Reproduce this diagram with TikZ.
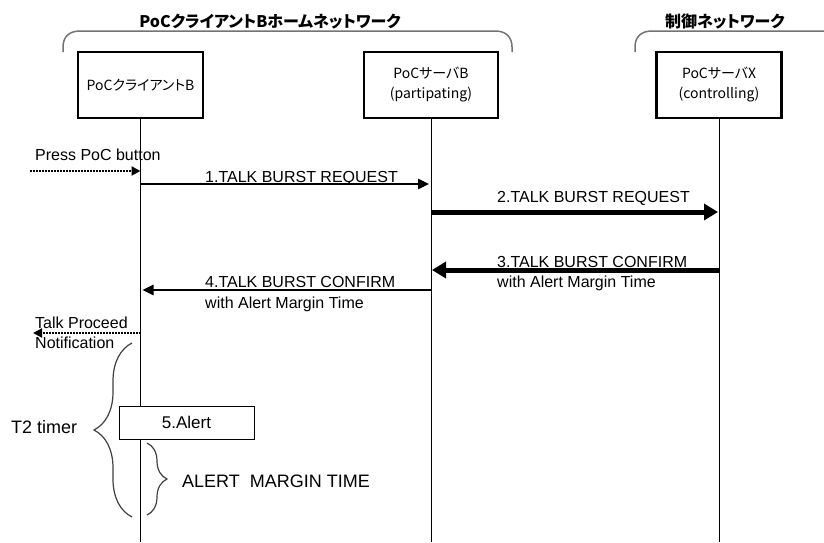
\documentclass[tikz,border=0pt]{standalone}
\usepackage{fontspec}
\setmainfont{Liberation Sans}
\newfontfamily\jp[RawFeature=+palt]{Noto Sans CJK JP}
\usetikzlibrary{arrows.meta,decorations.pathreplacing}
\begin{document}
\begin{tikzpicture}[x=1pt,y=-1pt,
  every node/.style={font=\fontsize{16}{19}\selectfont, inner sep=0pt},
  entity/.style={draw, line width=2.5pt, minimum width=125pt, minimum height=66pt, align=center, font={\jp\fontsize{14}{20}\selectfont}},
  lifeline/.style={line width=1pt},
  msg/.style={line width=2.5pt, -{Triangle[length=11pt,width=10pt]}, shorten >=2pt},
  bigmsg/.style={line width=5pt, -{Triangle[length=14pt,width=16pt]}, shorten >=1pt},
  dotmsg/.style={line width=2pt, dash pattern=on 1.5pt off 1.5pt, -{Triangle[length=9pt,width=9pt]}},
  netbrk/.style={draw=black!55, line width=1.5pt},
  timebrace/.style={draw=black!75, line width=1.2pt, decorate},
  lbl/.style={anchor=base west},
  head/.style={anchor=base, font={\jp\bfseries\fontsize{16}{19}\selectfont}},
]
\useasboundingbox (0,0) rectangle (824,542);
% network headings and brackets
\node[head] (h1) at (270,27) {PoCクライアントBホームネットワーク};
\node[head] (h2) at (725,27) {制御ネットワーク};
\draw[netbrk] (63,52) -- (63,47) .. controls (63,37) and (69,31) .. (80,31) -- (495,31) .. controls (506,31) and (512,37) .. (512,47) -- (512,52);
\draw[netbrk] (635,52) -- (635,47) .. controls (635,37) and (641,31) .. (652,31) -- (824,31);
% entities
\node[entity] (cb) at (140.5,85) {PoCクライアントB};
\node[entity, minimum width=134pt] (sb) at (431,85) {PoCサーバB\\(partipating)};
\node[entity] (sx) at (719,85) {PoCサーバX\\(controlling)};
% lifelines
\coordinate (cbe) at (140.5,542);
\coordinate (sbe) at (431,542);
\coordinate (sxe) at (719,542);
\draw[lifeline] (cb.south) -- (cbe);
\draw[lifeline] (sb.south) -- (sbe);
\draw[lifeline] (sx.south) -- (sxe);
% message anchor points
\coordinate (p0) at (30,171);
\coordinate (cb0) at (140.5,171);
\coordinate (cb1) at (140.5,184);
\coordinate (sb1) at (431,184);
\coordinate (sb2) at (431,212);
\coordinate (sx2) at (719,212);
\coordinate (sx3) at (719,270);
\coordinate (sb3) at (431,270);
\coordinate (sb4) at (431,290);
\coordinate (cb4) at (140.5,290);
\coordinate (cb5) at (140.5,333);
\coordinate (p5) at (33,333);
% messages
\draw[dotmsg] (p0) -- (cb0);
\node[lbl] (l0) at (35,160) {Press PoC button};
\draw[msg] (cb1) -- (sb1);
\node[lbl] (l1) at (205,182) {1.TALK BURST REQUEST};
\draw[bigmsg] (sb2) -- (sx2);
\node[lbl] (l2) at (497,202) {2.TALK BURST REQUEST};
\draw[bigmsg] (sx3) -- (sb3);
\node[lbl] (l3a) at (497,267) {3.TALK BURST CONFIRM};
\node[lbl] (l3b) at (497,287) {with Alert Margin Time};
\draw[msg] (sb4) -- (cb4);
\node[lbl] (l4a) at (205,287) {4.TALK BURST CONFIRM};
\node[lbl] (l4b) at (205,308) {with Alert Margin Time};
\draw[dotmsg] (cb5) -- (p5);
\node[lbl] (l5a) at (35,328) {Talk Proceed};
\node[lbl] (l5b) at (35,348) {Notification};
% alert box
\node[draw, fill=white, line width=1pt, minimum width=135pt, minimum height=33pt, font=\fontsize{17}{20}\selectfont] (al) at (186.5,422.5) {5.Alert};
% braces
\coordinate (t2b) at (132,517);
\coordinate (t2t) at (132,343);
\draw[timebrace, decoration={brace, amplitude=38pt}] (t2b) -- (t2t);
\node[lbl, font=\fontsize{18}{21}\selectfont] (t2) at (11,433) {T2 timer};
\coordinate (amt) at (147,443);
\coordinate (amb) at (147,515);
\draw[timebrace, decoration={brace, amplitude=20pt}] (amt) -- (amb);
\node[lbl, font=\fontsize{18}{21}\selectfont] (am) at (182,487) {ALERT\ \ MARGIN TIME};
\end{tikzpicture}
\end{document}
